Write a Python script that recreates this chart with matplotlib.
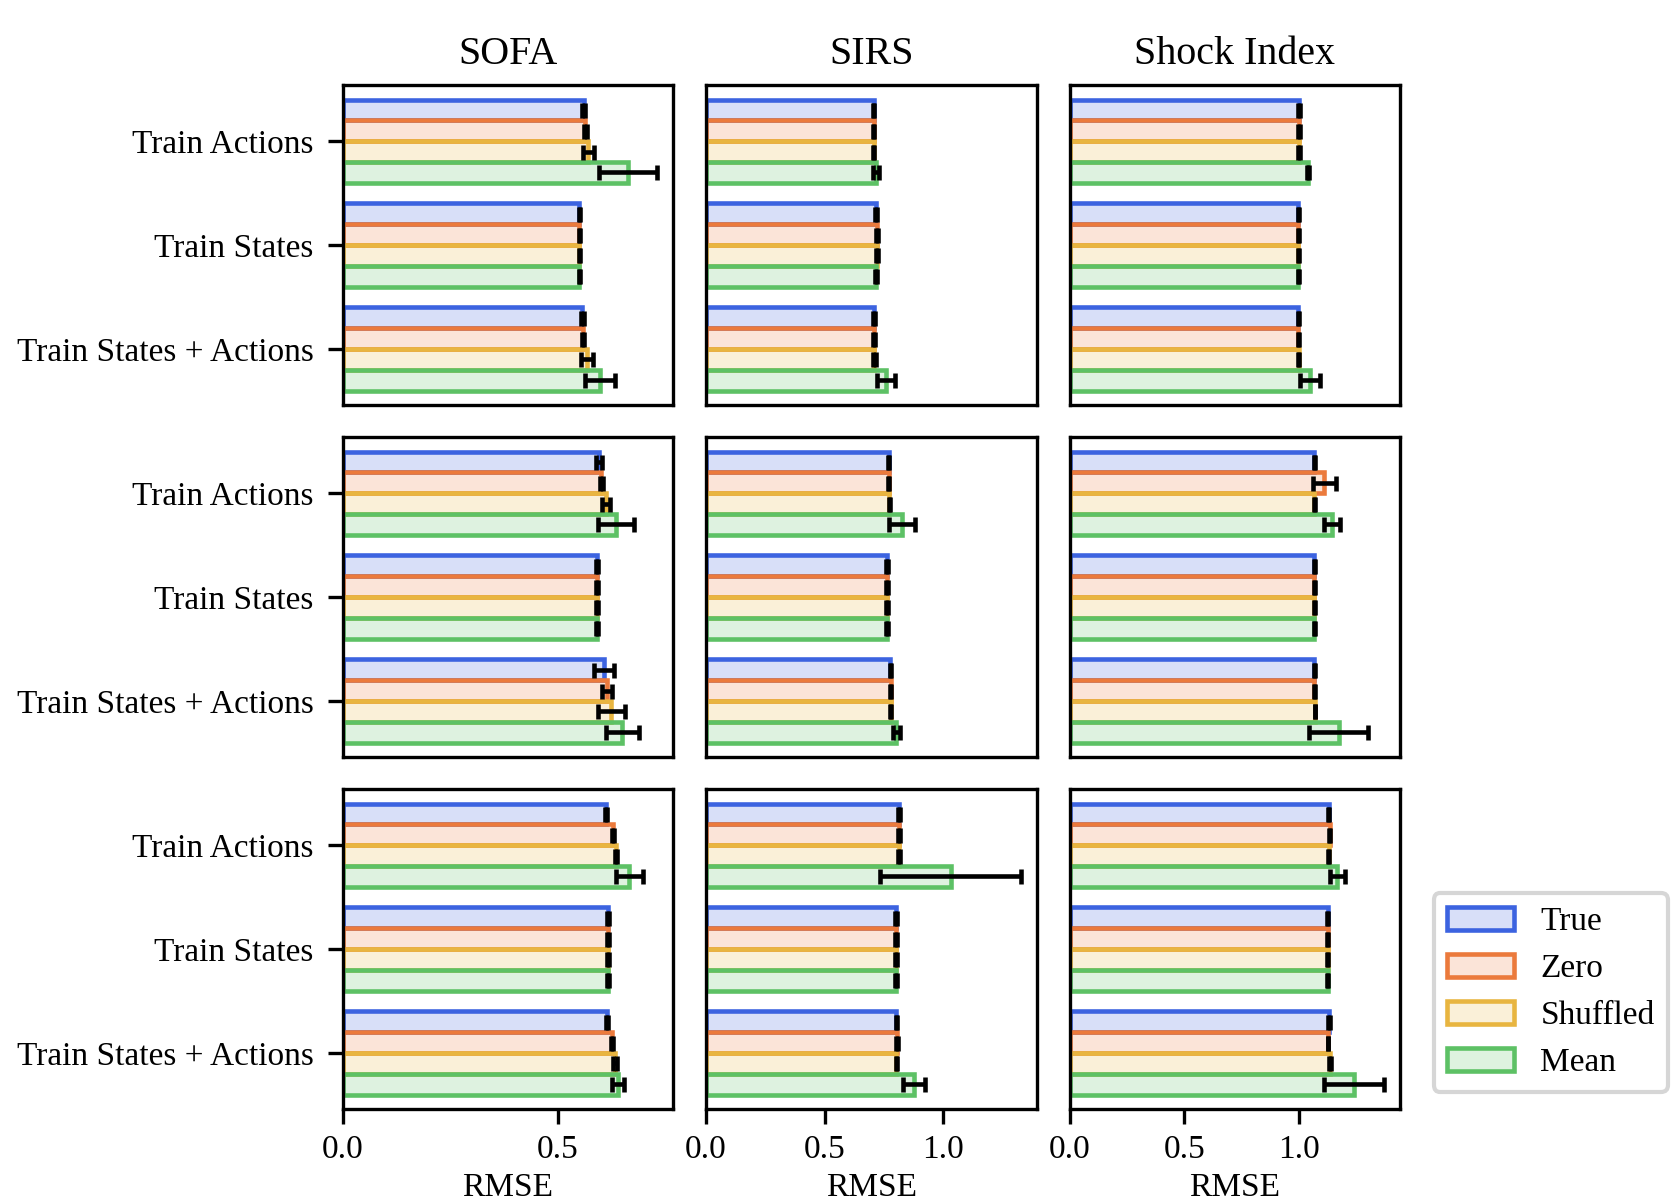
import matplotlib
matplotlib.use("Agg")
from matplotlib import pyplot as plt
from matplotlib.colors import to_rgba

plt.rcParams['font.family'] = ['Liberation Serif', 'DejaVu Serif']
plt.rcParams['font.size'] = 8

metricas = ["SOFA", "SIRS", "Shock Index"]
grupos = ["Train Actions", "Train States", "Train States + Actions"]
variantes = ["True", "Zero", "Shuffled", "Mean"]
colores = ["#3c63e0", "#eb7a3c", "#e8b540", "#5dc165"]

# [fila][grupo][variante]
sofa_mean = [
    [[0.560, 0.564, 0.571, 0.663], [0.550, 0.550, 0.550, 0.550], [0.557, 0.558, 0.567, 0.597]],
    [[0.595, 0.601, 0.612, 0.635], [0.591, 0.591, 0.591, 0.591], [0.608, 0.614, 0.624, 0.650]],
    [[0.612, 0.628, 0.635, 0.666], [0.616, 0.616, 0.616, 0.616], [0.614, 0.626, 0.633, 0.639]],
]
sofa_err = [
    [[0.003, 0.003, 0.012, 0.068], [0.002, 0.002, 0.002, 0.002], [0.003, 0.003, 0.014, 0.035]],
    [[0.007, 0.004, 0.010, 0.041], [0.002, 0.002, 0.002, 0.002], [0.023, 0.012, 0.031, 0.038]],
    [[0.003, 0.003, 0.003, 0.031], [0.003, 0.003, 0.003, 0.003], [0.003, 0.002, 0.004, 0.014]],
]
sirs_mean = [
    [[0.706, 0.706, 0.706, 0.717], [0.716, 0.720, 0.720, 0.716], [0.706, 0.706, 0.709, 0.759]],
    [[0.769, 0.769, 0.772, 0.826], [0.762, 0.762, 0.762, 0.762], [0.776, 0.778, 0.778, 0.802]],
    [[0.812, 0.813, 0.813, 1.030], [0.802, 0.802, 0.802, 0.802], [0.802, 0.804, 0.802, 0.875]],
]
sirs_err = [
    [[0.003, 0.003, 0.003, 0.013], [0.006, 0.006, 0.006, 0.006], [0.004, 0.004, 0.005, 0.038]],
    [[0.003, 0.003, 0.003, 0.056], [0.003, 0.003, 0.003, 0.003], [0.003, 0.003, 0.003, 0.013]],
    [[0.004, 0.004, 0.004, 0.296], [0.004, 0.004, 0.004, 0.004], [0.003, 0.003, 0.003, 0.046]],
]
shock_mean = [
    [[1.001, 0.999, 1.001, 1.038], [0.997, 0.997, 0.997, 0.997], [0.997, 0.997, 0.999, 1.048]],
    [[1.067, 1.111, 1.067, 1.144], [1.066, 1.066, 1.066, 1.066], [1.067, 1.067, 1.070, 1.173]],
    [[1.131, 1.134, 1.131, 1.168], [1.126, 1.126, 1.126, 1.126], [1.131, 1.127, 1.134, 1.240]],
]
shock_err = [
    [[0.004, 0.004, 0.004, 0.004], [0.002, 0.002, 0.002, 0.002], [0.002, 0.002, 0.003, 0.044]],
    [[0.002, 0.050, 0.002, 0.036], [0.002, 0.002, 0.002, 0.002], [0.002, 0.002, 0.002, 0.128]],
    [[0.002, 0.003, 0.002, 0.031], [0.002, 0.002, 0.002, 0.002], [0.003, 0.002, 0.004, 0.132]],
]

medias = [sofa_mean, sirs_mean, shock_mean]
errores = [sofa_err, sirs_err, shock_err]

fig, axes = plt.subplots(3, 3, figsize=(1673 / 300, 1203 / 300), dpi=300,
                         sharex='col', sharey=True)
fig.subplots_adjust(left=0.2048, right=0.8368, top=0.9293, bottom=0.0781,
                    wspace=0.1, hspace=0.1)

alto = 0.2
handles = []
for fila in range(3):
    for col in range(3):
        ax = axes[fila][col]
        for k, nombre in enumerate(variantes):
            ys = [g + (k - 1.5) * alto for g in range(len(grupos))]
            xs = [medias[col][fila][g][k] for g in range(len(grupos))]
            es = [errores[col][fila][g][k] for g in range(len(grupos))]
            b = ax.barh(ys, xs, height=alto, xerr=es, capsize=1.8,
                        color=to_rgba(colores[k], 0.2), edgecolor=colores[k],
                        linewidth=1.1, label=nombre,
                        error_kw=dict(ecolor='black', elinewidth=1.1, capthick=1.1))
            if fila == 0 and col == 0:
                handles.append(b)
        ax.set_yticks(range(len(grupos)))
        ax.set_yticklabels(grupos)
        if col > 0:
            ax.tick_params(left=False, labelleft=False)
        if fila < 2:
            ax.tick_params(bottom=False, labelbottom=False)
        else:
            ax.tick_params(axis='x', pad=2.5)
            ax.set_xlabel("RMSE", labelpad=2)
        if fila == 0:
            ax.set_title(metricas[col], pad=5)

axes[0][0].invert_yaxis()
for col in range(3):
    axes[2][col].set_xticks([0.0, 0.5] if col == 0 else [0.0, 0.5, 1.0])

fig.legend(handles, variantes, loc='center left', bbox_to_anchor=(0.847, 0.175))

fig.savefig("out.png", dpi=300)
